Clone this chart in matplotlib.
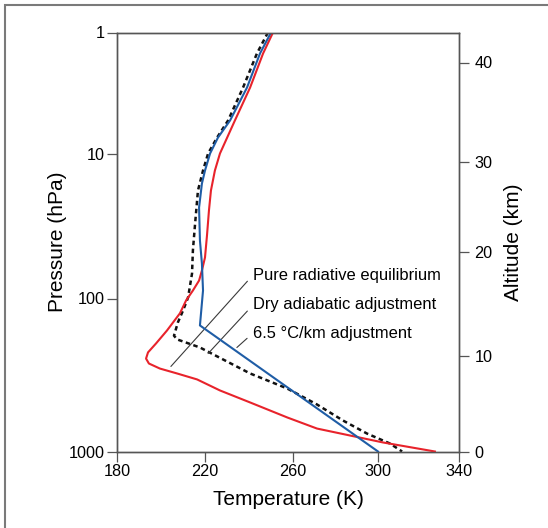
import numpy as np
import matplotlib
matplotlib.use("Agg")
import matplotlib.pyplot as plt
from matplotlib.patches import Rectangle

plt.rcParams['font.family'] = ['Liberation Sans', 'DejaVu Sans']

# pure radiative equilibrium (red)
rad_T = [250.9, 246.4, 240.5, 233.6, 226.8, 224.5, 222.7, 221.8, 220.9, 220.0,
         218.6, 217.3, 214.5, 211.4, 208.6, 202.7, 197.7, 194.1, 193.2, 194.5,
         199.5, 207.3, 216.4, 226.8, 240.5, 257.5, 271.3, 286.8, 302.5, 328.1]
rad_p = [1, 1.49, 2.85, 5.33, 10, 13.1, 18.0, 24.7, 36.8, 52.1,
         64.1, 75.2, 88.1, 103, 125, 162, 197, 225, 247, 266,
         287, 309, 338, 399, 478, 600, 708, 786, 873, 1000]

# dry adiabatic adjustment (black dotted)
dry_T = [248.6, 243.6, 237.3, 230.5, 225.5, 221.4, 219.1, 216.8, 215.5, 214.5,
         214.1, 212.3, 210.0, 207.7, 205.9, 207.3, 217.7, 240.5, 257.3, 271.3,
         283.5, 294.8, 305.9, 311.9]
dry_p = [1, 1.49, 2.85, 5.33, 7.38, 10, 13.1, 18.0, 30.4, 46.6,
         67.3, 98.5, 120, 143, 175, 185, 209, 309, 387, 493,
         627, 763, 887, 1000]

# 6.5 K/km adjustment (blue)
moist_T = [250.0, 245.0, 239.1, 231.4, 225.9, 222.3, 220.0, 218.6, 217.3, 217.7,
           218.6, 219.1, 217.7, 300.0]
moist_p = [1, 1.49, 2.85, 5.33, 7.38, 10, 13.1, 16.1, 23.6, 39.8,
           57.4, 88.1, 150, 1000]

temp_ticks = [180, 220, 260, 300, 340]
pressure_ticks = [1, 10, 100, 1000]
altitude_ticks = [0, 10, 20, 30, 40]

# the printed axes are not evenly spaced, so map ticks onto their drawn positions
t_ref = [140, 180, 220, 260, 300, 340, 380]
t_pos = [-88, 0, 88, 176, 261, 342, 423]
lp_ref = [-1, 0, 1, 2, 3, 4]
lp_pos = [-121, 0, 121, 266, 419, 572]
z_ref = [-10, 0, 10, 20, 30, 40, 50]
z_pos = [-96, 0, 96, 200, 290, 389, 488]


def t_fwd(t):
    return np.interp(t, t_ref, t_pos)


def t_inv(v):
    return np.interp(v, t_pos, t_ref)


def p_fwd(p):
    return np.interp(np.log10(np.clip(p, 1e-6, None)), lp_ref, lp_pos)


def p_inv(v):
    return 10 ** np.interp(v, lp_pos, lp_ref)


def z_fwd(z):
    return np.interp(z, z_ref, z_pos)


def z_inv(v):
    return np.interp(v, z_pos, z_ref)


fig = plt.figure(figsize=(5.48, 5.28), dpi=100)
fig.add_artist(Rectangle((5 / 548, -0.1), 1.2, 1 - 5 / 528 + 0.1,
                         transform=fig.transFigure, fill=False,
                         edgecolor='#7a7a7a', lw=1.5))

ax = fig.add_axes([117 / 548, 76.5 / 528, 342 / 548, 419 / 528])
ax.set_xscale('function', functions=(t_fwd, t_inv))
ax.set_yscale('function', functions=(p_fwd, p_inv))

ax.plot(rad_T, rad_p, color='#e8232b', lw=1.5, zorder=3)
ax.plot(dry_T, dry_p, color='#111111', lw=1.8, ls=(0, (1.8, 1.4)), zorder=2)
ax.plot(moist_T, moist_p, color='#1f5da6', lw=1.5, zorder=4)

ax.set_xlim(180, 340)
ax.set_ylim(1000, 1)
ax.set_xticks(temp_ticks)
ax.set_xticklabels([str(t) for t in temp_ticks])
ax.set_yticks(pressure_ticks)
ax.set_yticklabels([str(p) for p in pressure_ticks])
ax.minorticks_off()

for s in ax.spines.values():
    s.set_color('#555555')
    s.set_linewidth(1.0)
ax.tick_params(direction='out', length=7, width=0.9, color='#555555',
               labelsize=11.7, pad=2)
ax.set_xlabel('Temperature (K)', fontsize=15, labelpad=8)
ax.set_ylabel('Pressure (hPa)', fontsize=15, labelpad=1)

ax2 = ax.twinx()
ax2.set_yscale('function', functions=(z_fwd, z_inv))
ax2.set_ylim(0, z_inv(419))
ax2.set_yticks(altitude_ticks)
ax2.set_yticklabels([str(z) for z in altitude_ticks])
ax2.minorticks_off()
for s in ax2.spines.values():
    s.set_color('#555555')
    s.set_linewidth(1.0)
ax2.tick_params(direction='out', length=7, width=0.9, color='#555555',
                labelsize=11.7, pad=4)
ax2.set_ylabel('Altitude (km)', fontsize=15, labelpad=8)

arrow = dict(arrowstyle='-', color='#3a3a3a', lw=0.8,
             shrinkA=3, shrinkB=0, relpos=(0, 0.5))
ax.annotate('Pure radiative equilibrium', xy=(204.5, 278), xytext=(241.8, 74),
            ha='left', va='baseline', fontsize=11.9, arrowprops=arrow)
ax.annotate('Dry adiabatic adjustment', xy=(221.4, 229), xytext=(241.8, 118),
            ha='left', va='baseline', fontsize=11.9, arrowprops=arrow)
ax.annotate('6.5 \u00b0C/km adjustment', xy=(234.5, 209), xytext=(241.8, 180),
            ha='left', va='baseline', fontsize=11.9, arrowprops=arrow)

fig.savefig('out.png', dpi=100)
